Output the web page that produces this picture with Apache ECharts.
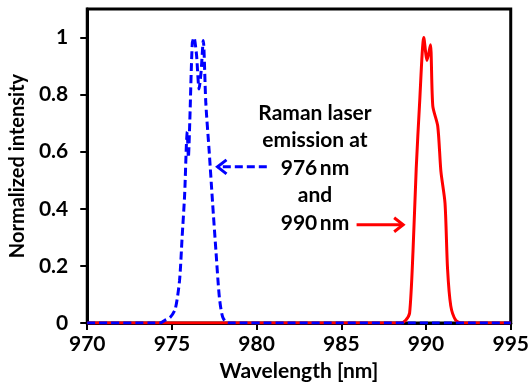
<!DOCTYPE html>
<html>
<head>
<meta charset="utf-8">
<script src="https://cdn.jsdelivr.net/npm/echarts@6/dist/echarts.min.js"></script>
<style>
  html, body { margin: 0; padding: 0; background: #fff; }
  #chart { width: 532px; height: 387px; }
</style>
</head>
<body>
<div id="chart"></div>
<script>
// tick labels
const xTicks = [970, 975, 980, 985, 990, 995];
const yTicks = [0, 0.2, 0.4, 0.6, 0.8, 1];

// 976 nm emission (blue, dashed)
const wl976 = [970, 974.3, 974.6, 974.9, 975.2, 975.45, 975.6, 975.75, 975.85, 975.9, 975.97, 976.05, 976.2, 976.3, 976.45, 976.6, 976.72, 976.85, 977.0, 977.2, 977.4, 977.6, 977.8, 978.0, 978.3, 995];
const int976 = [0, 0, 0.01, 0.02, 0.05, 0.15, 0.3, 0.45, 0.62, 0.67, 0.58, 0.7, 0.98, 1.0, 0.94, 0.82, 0.88, 0.99, 0.77, 0.6, 0.42, 0.25, 0.09, 0.02, 0, 0];

// 990 nm emission (red, solid)
const wl990 = [970, 988.5, 988.8, 989.03, 989.23, 989.42, 989.62, 989.87, 990.06, 990.26, 990.4, 990.69, 990.88, 991.12, 991.27, 991.46, 991.75, 992.1, 995];
const int990 = [0, 0, 0.01, 0.035, 0.25, 0.54, 0.77, 1.0, 0.92, 0.975, 0.76, 0.69, 0.53, 0.42, 0.19, 0.06, 0.01, 0, 0];

// annotation text and arrows (data space)
const noteLines = ['Raman laser', 'emission at', '976\u2009nm', 'and', '990\u2009nm'];
const arrow976 = { from: [980.6, 0.547], to: [977.69, 0.547] };
const arrow990 = { from: [985.9, 0.344], to: [988.65, 0.344] };

const zip = (xs, ys) => xs.map((x, i) => [x, ys[i]]);

const font = 'Lato, "Open Sans", sans-serif';
const chart = echarts.init(document.getElementById('chart'));

chart.setOption({
  animation: false,
  backgroundColor: '#ffffff',
  grid: {
    left: 85, right: 18, top: 9, bottom: 64,
    show: true, borderColor: '#000', borderWidth: 3
  },
  xAxis: {
    type: 'value',
    min: 970, max: 995, interval: 5,
    name: 'Wavelength [nm]',
    nameLocation: 'middle',
    nameGap: 38,
    nameTextStyle: { color: '#000', fontSize: 21, fontWeight: 'bold', fontFamily: font },
    axisLine: { lineStyle: { color: '#000', width: 3 } },
    axisTick: { inside: false, length: 7, lineStyle: { color: '#000', width: 2 } },
    axisLabel: { color: '#000', fontSize: 21, fontWeight: 'bold', fontFamily: font, margin: 11 },
    splitLine: { show: false }
  },
  yAxis: {
    type: 'value',
    min: 0, max: 1.1, interval: 0.2,
    name: 'Normalized intensity',
    nameLocation: 'middle',
    nameGap: 56,
    nameTextStyle: { color: '#000', fontSize: 20, fontWeight: 'bold', fontFamily: font },
    axisLine: { lineStyle: { color: '#000', width: 3 } },
    axisTick: { inside: false, length: 7, customValues: yTicks, lineStyle: { color: '#000', width: 2 } },
    axisLabel: { color: '#000', fontSize: 21, fontWeight: 'bold', fontFamily: font, margin: 19, customValues: yTicks },
    splitLine: { show: false }
  },
  series: [
    {
      name: '990 nm',
      type: 'line',
      data: zip(wl990, int990),
      showSymbol: false,
      smooth: 0.25,
      lineStyle: { color: '#ff0000', width: 3 },
      z: 3
    },
    {
      name: '976 nm',
      type: 'line',
      data: zip(wl976, int976),
      showSymbol: false,
      smooth: 0.25,
      lineStyle: { color: '#0000ff', width: 3, type: [8, 4] },
      z: 4
    }
  ]
});

// arrows + text placed from data coordinates
const px = p => chart.convertToPixel({ gridIndex: 0 }, p);
const b0 = px(arrow976.from), b1 = px(arrow976.to);
const r0 = px(arrow990.from), r1 = px(arrow990.to);

chart.setOption({
  graphic: [
    {
      type: 'polyline',
      shape: { points: [b0, b1] },
      style: { stroke: '#0000ff', lineWidth: 3, lineDash: [8, 4], fill: null }
    },
    {
      type: 'polyline',
      shape: { points: [[b1[0] + 9, b1[1] - 7], b1, [b1[0] + 9, b1[1] + 7]] },
      style: { stroke: '#0000ff', lineWidth: 3, fill: null }
    },
    {
      type: 'polyline',
      shape: { points: [r0, r1] },
      style: { stroke: '#ff0000', lineWidth: 3, fill: null }
    },
    {
      type: 'polyline',
      shape: { points: [[r1[0] - 9, r1[1] - 7], r1, [r1[0] - 9, r1[1] + 7]] },
      style: { stroke: '#ff0000', lineWidth: 3, fill: null }
    },
    {
      type: 'text',
      x: 315, y: 99,
      style: {
        text: noteLines.join('\n'),
        fill: '#000',
        font: 'bold 21px ' + font,
        lineHeight: 27.5,
        textAlign: 'center'
      }
    }
  ]
});
</script>
</body>
</html>
